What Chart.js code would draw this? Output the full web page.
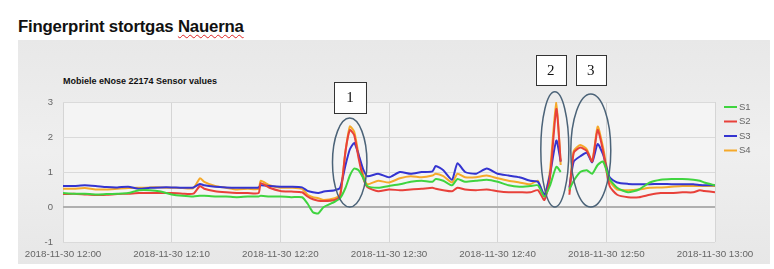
<!DOCTYPE html>
<html><head><meta charset="utf-8">
<script src="https://cdn.jsdelivr.net/npm/chart.js@4/dist/chart.umd.min.js"></script>
<style>
html,body{margin:0;padding:0;background:#fff;width:774px;height:269px;overflow:hidden}
#panel{position:absolute;left:18px;top:40px;width:752px;height:224px;background:linear-gradient(180deg,#e8e8e8,#efefef 50%,#e7e7e7)}
#title{position:absolute;left:18px;top:17px;font:bold 16.8px "Liberation Sans",Arial,sans-serif;color:#111;white-space:nowrap;letter-spacing:-0.2px}
#title u{text-decoration:underline wavy #d22;text-decoration-thickness:1px;text-underline-offset:2px}
#sub{position:absolute;left:63px;top:76px;font:bold 9px "Liberation Sans",Arial,sans-serif;color:#111;white-space:nowrap}
#wrap{position:absolute;left:0;top:0;width:774px;height:269px}
</style></head>
<body>
<div id="panel"></div>
<div id="title">Fingerprint stortgas <u>Nauerna</u></div>
<div id="sub">Mobiele eNose 22174 Sensor values</div>
<div id="wrap"><canvas id="c" width="774" height="269"></canvas></div>
<script>
// minutes after 12:00
const minutes = [0,1,2,3,4,5,6,7,8,9,10,11,12,12.6,13,14,15,16,17,18,18.2,19,20,21,22,22.5,23,23.5,24,25,25.5,26,26.4,26.8,27.2,27.6,28,29,30,31,32,33,34,34.3,35,35.8,36.3,37,38,39,40,41,42,43,43.7,44.3,44.8,45.4,45.8,46.2,46.6,47,47.6,48.2,48.7,49.2,49.7,50.3,51,52,53,54,55,56,57,58,58.6,59,60];
const s1 = [.40,.38,.38,.36,.37,.38,.40,.48,.48,.44,.36,.32,.30,.32,.32,.30,.30,.28,.30,.30,.32,.30,.30,.28,.28,.10,-.15,-.18,0,.15,.25,.55,.9,1.1,1.05,.85,.6,.55,.6,.65,.72,.75,.72,.8,.75,.62,.8,.72,.75,.78,.72,.62,.58,.6,.62,.3,.6,1.15,1.0,null,.5,.75,1.0,1.05,.95,1.2,1.3,.8,.55,.42,.5,.7,.78,.8,.8,.78,.75,.7,.62];
const s2 = [.37,.38,.36,.34,.35,.37,.38,.40,.40,.40,.40,.38,.38,.60,.52,.45,.42,.40,.40,.40,.68,.55,.46,.44,.42,.30,.22,.18,.17,.20,.30,1.6,2.2,2.05,1.4,.85,.57,.45,.5,.48,.5,.52,.55,.52,.48,.45,.55,.5,.48,.5,.45,.42,.42,.42,.48,.2,.8,2.8,1.3,null,.35,1.55,1.7,1.6,1.3,2.2,1.6,.6,.35,.28,.28,.35,.4,.4,.42,.42,.48,.46,.42];
const s3 = [.60,.60,.62,.60,.57,.56,.58,.52,.55,.56,.56,.55,.56,.66,.62,.58,.56,.55,.55,.56,.62,.60,.58,.58,.56,.46,.42,.40,.44,.48,.55,1.2,1.65,1.83,1.5,1.1,.88,.95,.85,1.0,.95,1.0,1.02,1.17,1.05,.78,1.25,1.0,.95,1.1,.95,.9,.85,.75,.72,.35,.9,1.9,1.3,null,.55,1.3,1.45,1.55,1.28,1.8,1.5,.85,.7,.66,.65,.65,.66,.65,.65,.65,.63,.62,.62];
const s4 = [.52,.52,.54,.50,.50,.52,.54,.55,.56,.56,.55,.54,.54,.82,.72,.6,.55,.5,.52,.52,.75,.62,.55,.55,.52,.35,.28,.25,.20,.25,.35,1.6,2.3,2.15,1.5,.95,.65,.75,.7,.82,.88,.85,.9,.95,.88,.7,.95,.85,.85,.9,.82,.75,.7,.65,.75,.3,1.0,3.0,1.2,null,.45,1.6,1.77,1.65,1.3,2.3,1.7,.75,.5,.48,.5,.55,.56,.58,.6,.6,.6,.6,.6];
const seriesNames = ['S1','S2','S3','S4'];
const seriesColors = ['#3fd43f','#e8413a','#3434d0','#f5a92a'];
const xTickLabels = ['2018-11-30 12:00','2018-11-30 12:10','2018-11-30 12:20','2018-11-30 12:30','2018-11-30 12:40','2018-11-30 12:50','2018-11-30 13:00'];
const yTicks = [-1,0,1,2,3];
// annotation marks (minutes / value ranges)
const ellipses = [{x0:24.8,x1:27.97,y0:0,y1:2.54},{x0:43.97,x1:46.55,y0:0,y1:3.29},{x0:46.73,x1:50.41,y0:0,y1:3.23}];
const boxes = [{label:'1',x0:24.93,x1:27.87,y0:2.69,y1:3.57},{label:'2',x0:43.51,x1:46.27,y0:3.49,y1:4.34},{label:'3',x0:47.19,x1:49.95,y0:3.49,y1:4.34}];

const series = [s1,s2,s3,s4];
const datasets = series.map((arr,i)=>({
  label: seriesNames[i],
  data: minutes.map((m,j)=>({x:m,y:arr[j]})),
  borderColor: seriesColors[i],
  backgroundColor: seriesColors[i],
  borderWidth: 2,
  pointRadius: 0,
  tension: 0.2,
  spanGaps: false
}));

const deco = {
  id:'deco',
  beforeDraw(chart){
    const {ctx, chartArea:a} = chart;
    ctx.save(); ctx.fillStyle='#f4f4f4';
    ctx.fillRect(a.left,a.top,a.right-a.left,a.bottom-a.top); ctx.restore();
  },
  afterDatasetsDraw(chart){
    const {ctx, chartArea:a, scales:{x,y}} = chart;
    ctx.save();
    ctx.strokeStyle='#4b6378'; ctx.lineWidth=1.5;
    ellipses.forEach(e=>{
      const l=x.getPixelForValue(e.x0), r=x.getPixelForValue(e.x1);
      const t=y.getPixelForValue(e.y1), b=y.getPixelForValue(e.y0);
      ctx.beginPath(); ctx.ellipse((l+r)/2,(t+b)/2,(r-l)/2,(b-t)/2,0,0,Math.PI*2); ctx.stroke();
    });
    boxes.forEach(bx=>{
      const l=x.getPixelForValue(bx.x0), r=x.getPixelForValue(bx.x1);
      const t=y.getPixelForValue(bx.y1), b=y.getPixelForValue(bx.y0);
      ctx.fillStyle='#fff'; ctx.fillRect(l,t,r-l,b-t);
      ctx.strokeStyle='#333'; ctx.lineWidth=1; ctx.strokeRect(Math.round(l)+.5,Math.round(t)+.5,Math.round(r-l),Math.round(b-t));
      ctx.fillStyle='#111'; ctx.font='15px "Liberation Serif", serif'; ctx.textAlign='center'; ctx.textBaseline='middle';
      ctx.fillText(bx.label,(l+r)/2,(t+b)/2+1);
    });
    // legend
    ctx.font='9.5px "Liberation Sans", Arial'; ctx.textAlign='left'; ctx.textBaseline='middle';
    chart.data.datasets.forEach((d,i)=>{
      const yy=a.top+5+i*14.5;
      ctx.strokeStyle=d.borderColor; ctx.lineWidth=2;
      ctx.beginPath(); ctx.moveTo(a.right+9,yy); ctx.lineTo(a.right+22,yy); ctx.stroke();
      ctx.fillStyle='#666'; ctx.fillText(d.label,a.right+24,yy);
    });
    ctx.restore();
  }
};

Chart.defaults.font.family='"Liberation Sans", Arial, sans-serif';
new Chart(document.getElementById('c'),{
  type:'line',
  data:{datasets},
  options:{
    responsive:false, animation:false, devicePixelRatio:1,
    layout:{padding:{left:18,right:59,top:102,bottom:0}},
    plugins:{legend:{display:false},tooltip:{enabled:false}},
    scales:{
      x:{type:'linear',min:0,max:60,
        afterBuildTicks(s){s.ticks=xTickLabels.map((_,i)=>({value:i*10}));},
        afterFit(s){s.height=27;},
        border:{display:false},
        grid:{color:'#d5d5d5',lineWidth:1,drawTicks:false},
        ticks:{padding:6,maxRotation:0,autoSkip:false,color:'#666',font:{size:9.8},callback:(v)=>xTickLabels[Math.round(v/10)]}},
      y:{min:-1,max:3,
        afterBuildTicks(s){s.ticks=yTicks.map(v=>({value:v}));},
        afterFit(s){s.width=45;},
        border:{display:false},
        grid:{drawTicks:false,color:c=>c.tick&&c.tick.value===0?'#b0b0b0':'#dadada',lineWidth:c=>c.tick&&c.tick.value===0?2:1},
        ticks:{padding:10,color:'#666',font:{size:9.5}}}
    }
  },
  plugins:[deco]
});
</script>
</body></html>
